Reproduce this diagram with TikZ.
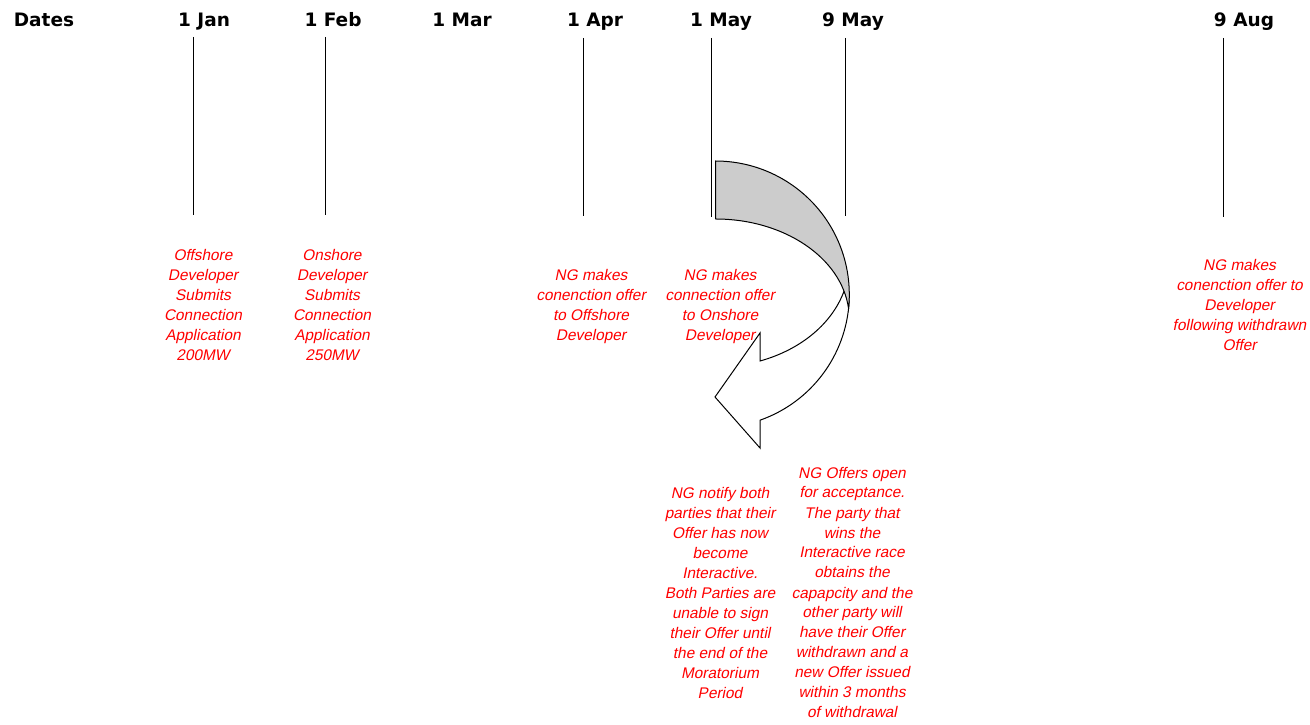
\documentclass[tikz,border=0pt]{standalone}
\usepackage{fontspec}
\setmainfont{Liberation Sans}
\newfontfamily\notefont{Liberation Sans}[FakeSlant=0.2]
\newfontfamily\hdrfont{DejaVu Sans Bold}
\begin{document}
\begin{tikzpicture}[x=1pt,y=1pt,
  hdr/.style={font=\hdrfont\fontsize{18.5}{22}\selectfont, inner sep=0pt, anchor=base},
  note/.style={font=\notefont\fontsize{15.4}{20}\selectfont, text=red, align=center, inner sep=0pt, anchor=center},
  tick/.style={line width=1pt, black},
  curvearrow/.style={line width=1pt, black, line join=miter}]
\useasboundingbox (0,0) rectangle (1310,724);
% header
\node[hdr] (dates) at (44,697.3) {Dates};
\node[hdr] (jan) at (204,697.3) {1 Jan};
\node[hdr] (feb) at (333,697.3) {1 Feb};
\node[hdr] (mar) at (462,697.3) {1 Mar};
\node[hdr] (apr) at (595,697.3) {1 Apr};
\node[hdr] (may) at (721,697.3) {1 May};
\node[hdr] (mayn) at (853,697.3) {9 May};
\node[hdr] (aug) at (1244,697.3) {9 Aug};
% ticks
\coordinate (janT) at (193,687); \coordinate (janB) at (193,509);
\coordinate (febT) at (325,687); \coordinate (febB) at (325,509);
\coordinate (aprT) at (583,686); \coordinate (aprB) at (583,508);
\coordinate (mayT) at (711,686); \coordinate (mayB) at (711,507);
\coordinate (maynT) at (845,686); \coordinate (maynB) at (845,508);
\coordinate (augT) at (1223,686); \coordinate (augB) at (1223,507);
\draw[tick] (janT) -- (janB);
\draw[tick] (febT) -- (febB);
\draw[tick] (aprT) -- (aprB);
\draw[tick] (mayT) -- (mayB);
\draw[tick] (maynT) -- (maynB);
\draw[tick] (augT) -- (augB);
% notes
\node[note] (n1) at (203,419) {Offshore\\Developer\\Submits\\Connection\\Application\\200MW};
\node[note] (n2) at (332,419) {Onshore\\Developer\\Submits\\Connection\\Application\\250MW};
\node[note] (n3) at (591,417) {NG makes\\conenction offer\\to Offshore\\Developer};
\node[note] (n4) at (720,417) {NG makes\\connection offer\\to Onshore\\Developer};
\node[note] (n5) at (1239.5,419) {NG makes\\conenction offer to\\Developer\\following withdrawn\\Offer};
\node[note] (n6) at (720,131) {NG notify both\\parties that their\\Offer has now\\become\\Interactive.\\Both Parties are\\unable to sign\\their Offer until\\the end of the\\Moratorium\\Period};
\node[note] (n7) at (852,131.5) {NG Offers open\\for acceptance.\\The party that\\wins the\\Interactive race\\obtains the\\capapcity and the\\other party will\\have their Offer\\withdrawn and a\\new Offer issued\\within 3 months\\of withdrawal};
% curved arrow: front (white)
\draw[curvearrow, fill=white] (760,363)
  arc[start angle=-70.57, end angle=-12, x radius=133.8, y radius=105]
  -- (849.12,422.62)
  arc[start angle=-3, end angle=-70.57, x radius=133.8, y radius=133.4]
  -- (760,276) -- (715,327) -- (760,391) -- cycle;
% curved arrow: back (grey)
\draw[curvearrow, fill=black!20] (715.5,563)
  arc[start angle=90, end angle=-6.05, x radius=133.8, y radius=133.4]
  arc[start angle=6.05, end angle=90, x radius=133.8, y radius=100]
  -- cycle;
\end{tikzpicture}
\end{document}
